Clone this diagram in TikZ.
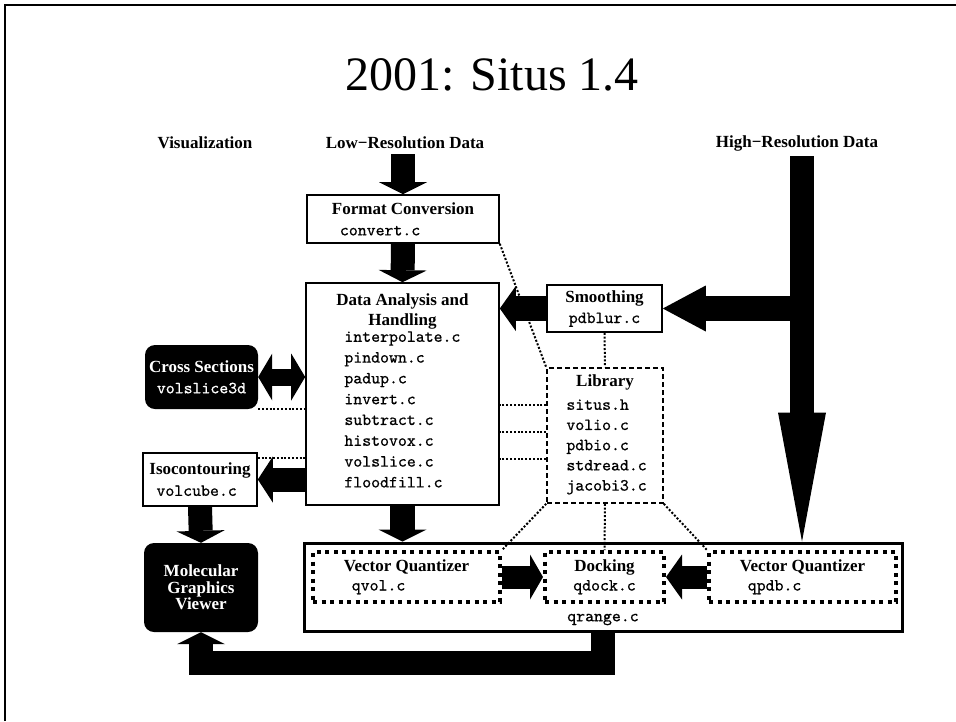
\documentclass[tikz,border=0pt]{standalone}
\usepackage{fontspec}
\setmainfont{Liberation Serif}
\newfontfamily\srcfont{lmmono10-regular}[Extension=.otf, FakeBold=0.7]
\usetikzlibrary{arrows.meta,calc}

\newcommand\srcfile[1]{{\fontsize{17}{20}\selectfont\srcfont #1}}

\tikzset{
  hdr/.style={inner sep=0pt, font=\fontsize{17}{20}\selectfont\bfseries},
  box/.style={draw, line width=1.6pt, inner sep=0pt, font=\fontsize{17}{21}\selectfont},
  darkbox/.style={fill=black, text=white, rounded corners=10pt, inner sep=0pt,
    font=\fontsize{17}{21}\selectfont},
  libbox/.style={draw, line width=1.6pt, dash pattern=on 5pt off 3pt, inner sep=0pt},
  quantbox/.style={draw, line width=4pt, dash pattern=on 4pt off 4.5pt, inner sep=0pt,
    font=\fontsize{17}{19}\selectfont},
  srclist/.style={inner sep=0pt, align=left, font=\fontsize{17}{20.8}\selectfont\srcfont},
  link/.style={line width=2pt, dash pattern=on 2pt off 1.8pt},
  fatarrow/.style n args={3}{line width=#1,
    -{Triangle[width=#2,length=#3,line width=0pt]}},
  fat/.style={fatarrow={24pt}{48pt}{12pt}},
}

\begin{document}
\begin{tikzpicture}[x=1pt, y=-1pt]
  \useasboundingbox (0,0) rectangle (956,721);
  \draw[line width=2.5pt] (5,721) -- (5,5) -- (956,5);
  \node[font=\fontsize{48}{50}\selectfont] (title) at (492,75) {2001: Situs 1.4};

  % column headings
  \node[hdr] (vis) at (205,143) {Visualization};
  \node[hdr] (low) at (405,143) {Low−Resolution Data};
  \node[hdr] (high) at (797,143) {High−Resolution Data};

  % main column
  \node[box, minimum width=192pt, minimum height=48pt, align=left] (fmt) at (403,219)
    {\textbf{Format Conversion}\\\hspace*{8pt}\srcfile{convert.c}};
  \node[box, minimum width=193pt, minimum height=222pt] (ana) at (402.5,394) {};
  \node[hdr, align=center, anchor=north] (anatitle) at ($(ana.north)+(0,11)$)
    {Data Analysis and\\Handling};
  \node[srclist, anchor=north west] (analist) at ($(ana.north west)+(39,49)$)
    {interpolate.c\\pindown.c\\padup.c\\invert.c\\subtract.c\\histovox.c\\volslice.c\\floodfill.c};

  % right column
  \node[box, minimum width=115pt, minimum height=47pt, align=center] (smooth) at (604.5,308.5)
    {\textbf{Smoothing}\\\srcfile{pdblur.c}};
  \node[libbox, minimum width=116pt, minimum height=135pt] (lib) at (605,435.5) {};
  \node[hdr] (libtitle) at ($(lib.north)+(0,15)$) {Library};
  \node[srclist, anchor=north west, font=\fontsize{17}{20.2}\selectfont\srcfont] (liblist)
    at ($(lib.north west)+(20,32)$) {situs.h\\volio.c\\pdbio.c\\stdread.c\\jacobi3.c};

  % visualization column
  \node[darkbox, minimum width=113pt, minimum height=64pt, align=center] (cross) at (201.5,377)
    {\textbf{Cross Sections}\\\srcfile{volslice3d}};
  \node[box, minimum width=114pt, minimum height=53pt, align=left] (iso) at (200,479.5)
    {\textbf{Isocontouring}\\\hspace*{7pt}\srcfile{volcube.c}};
  \node[darkbox, minimum width=114pt, minimum height=89pt, align=center,
    font=\fontsize{17}{16.5}\selectfont\bfseries] (mgv) at (201,587.5)
    {Molecular\\Graphics\\Viewer};

  % docking group
  \node[draw, line width=3pt, minimum width=598pt, minimum height=88pt] (qrange) at (603,587) {};
  \node[quantbox, minimum width=187pt, minimum height=50pt, align=left] (vqvol) at (406.5,577)
    {\textbf{Vector Quantizer}\\\hspace*{8pt}\srcfile{qvol.c}};
  \node[quantbox, minimum width=119pt, minimum height=50pt, align=center] (dock) at (604.5,577)
    {\textbf{Docking}\\\srcfile{qdock.c}};
  \node[quantbox, minimum width=187pt, minimum height=50pt, align=left] (vqpdb) at (802.5,577)
    {\textbf{Vector Quantizer}\\\hspace*{8pt}\srcfile{qpdb.c}};
  \node[inner sep=0pt] (qrtext) at ($(qrange.south)+(0,-13)$) {\srcfile{qrange.c}};

  % library links
  \draw[link] (fmt.south east) -- (lib.north west);
  \draw[link] (smooth.south) -- (lib.north);
  \foreach \dy in {38,65,92} {
    \coordinate (tap) at ($(lib.north west)+(0,\dy)$);
    \draw[link] (tap) -- (tap -| ana.east);
  }
  \draw[link] (cross.south east) -- (cross.south east -| ana.west);
  \coordinate (isotap) at ($(iso.north east)+(0,6)$);
  \draw[link] (isotap) -- (isotap -| ana.west);
  \draw[link] (lib.south west) -- (vqvol.north east);
  \draw[link] (lib.south) -- (dock.north);
  \draw[link] (lib.south east) -- (vqpdb.north west);

  % data flow
  \coordinate (lowin) at ($(fmt.north)+(0,-40)$);
  \draw[fat] (lowin) -- (fmt.north);
  \draw[fat] (fmt.south) -- (ana.north);
  \draw[fatarrow={25pt}{45pt}{16pt}] (smooth.west) -- (smooth.west -| ana.east);
  \coordinate (hires) at (802,156);
  \draw[fatarrow={24pt}{48pt}{129pt}] (hires) -- (hires |- qrange.north);
  \draw[fatarrow={25pt}{46pt}{43pt}] (hires |- smooth.east) -- (smooth.east);
  \draw[line width=17pt, {Triangle[width=47pt,length=14pt,line width=0pt]}-{Triangle[width=47pt,length=14pt,line width=0pt]}]
    (cross.east) -- (cross.east -| ana.west);
  \draw[fatarrow={24pt}{46pt}{15pt}] (iso.east -| ana.west) -- (iso.east);
  \draw[fat] (iso.south) -- (mgv.north);
  \draw[fatarrow={25pt}{48pt}{12pt}] (ana.south) -- (ana.south |- qrange.north);
  \draw[fatarrow={23pt}{45pt}{13pt}] (vqvol.east) -- (dock.west);
  \draw[fatarrow={23pt}{45pt}{16pt}] (vqpdb.west) -- (dock.east);
  \draw[fat, line join=miter] (qrange.south) -- ++(0,30) -| (mgv.south);
\end{tikzpicture}
\end{document}
